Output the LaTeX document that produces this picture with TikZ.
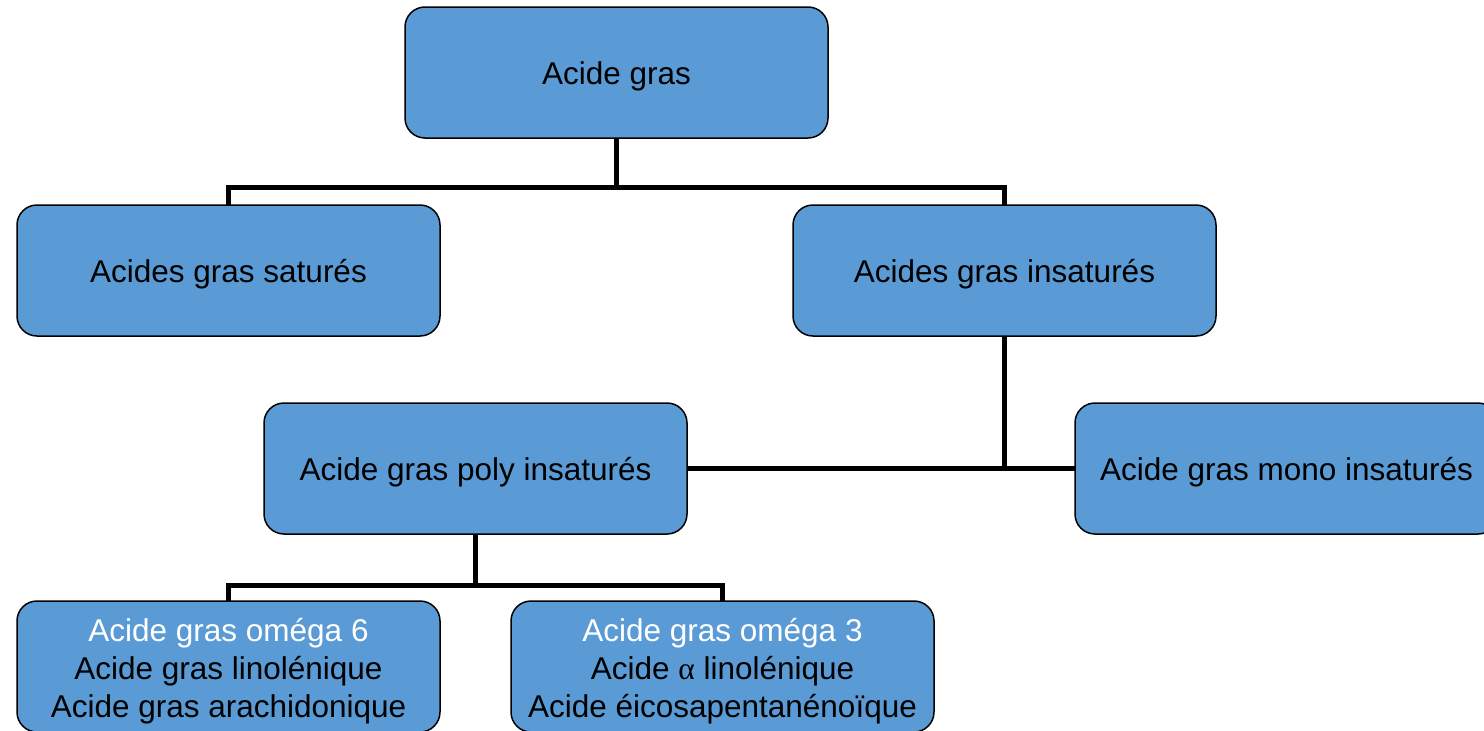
\documentclass[tikz,border=0pt]{standalone}
\usepackage{fontspec}
\setmainfont{Liberation Sans}
\newfontfamily\alphafont{Liberation Serif}
\definecolor{boxblue}{RGB}{91,155,213}
\begin{document}
\begin{tikzpicture}[x=1pt,y=-1pt,
  box/.style={draw=black, line width=1.5pt, fill=boxblue, rounded corners=20pt,
    minimum width=423pt, minimum height=131pt, inner sep=0pt, outer sep=0pt,
    align=center, font=\fontsize{31.5}{37.7}\selectfont, text=black},
  onebox/.style={box, text height=31pt, text depth=7pt},
  threebox/.style={box, text height=108pt, text depth=6.6pt},
  conn/.style={draw=black, line width=5pt, line join=miter}]
\useasboundingbox (0,0) rectangle (1484,731);
\clip (0,0) rectangle (1484,731);
\node[onebox] (top) at (616.5,72.5) {Acide gras};
\node[onebox] (sat) at (228.5,270.5) {Acides gras saturés};
\node[onebox] (ins) at (1004.5,270.5) {Acides gras insaturés};
\node[onebox] (poly) at (475.5,468.5) {Acide gras poly insaturés};
\node[onebox] (mono) at (1286.5,468.5) {Acide gras mono insaturés};
\node[threebox] (o6) at (228.5,666.5) {\textcolor{white}{Acide gras oméga 6}\\Acide gras linolénique\\Acide gras arachidonique};
\node[threebox] (o3) at (722.5,666.5) {\textcolor{white}{Acide gras oméga 3}\\Acide {\alphafont α} linolénique\\Acide éicosapentanénoïque};
\coordinate (j1) at (616.5,187);
\coordinate (j2) at (475.5,585);
\draw[conn] (top.south) -- (j1);
\draw[conn] (sat.north) |- (j1) -| (ins.north);
\draw[conn] (ins.south) -- (ins.south |- poly.east);
\draw[conn] (poly.east) -- (mono.west);
\draw[conn] (poly.south) -- (j2);
\draw[conn] (o6.north) |- (j2) -| (o3.north);
\end{tikzpicture}
\end{document}
